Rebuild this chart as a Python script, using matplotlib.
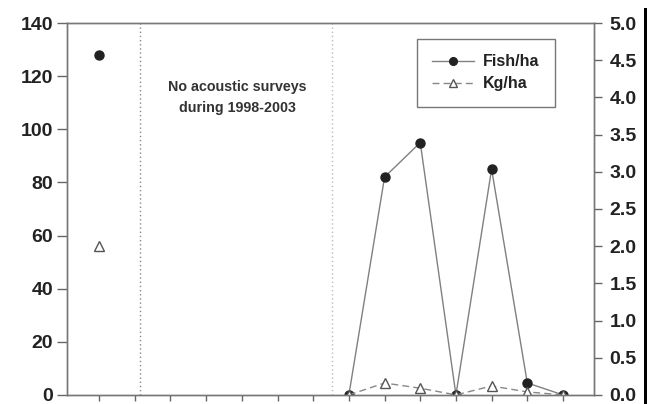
import numpy as np
import matplotlib.pyplot as plt
from matplotlib.patches import Rectangle

plt.rcParams['font.family'] = ['Liberation Sans', 'DejaVu Sans']
plt.rcParams['font.weight'] = 'bold'

# survey index 0 = 1997, 1-6 = no surveys (1998-2003), 7-13 = 2004-2010
years = np.arange(14)
fish_ha = [128, np.nan, np.nan, np.nan, np.nan, np.nan, np.nan,
           0, 82, 95, 0, 85, 4.5, 0]
kg_ha = [2.0, np.nan, np.nan, np.nan, np.nan, np.nan, np.nan,
         0, 0.16, 0.09, 0, 0.12, 0.04, 0]
gap_edges = [1.15, 6.53]

fig = plt.figure(figsize=(6.55, 4.04), dpi=100)
ax = fig.add_axes([0.1023, 0.0225, 0.8046, 0.9205])
ax2 = ax.twinx()

fish_line, = ax.plot(years, fish_ha, color='#808080', lw=1.0, marker='o',
                     ms=6.5, mfc='#222222', mec='#222222', label='Fish/ha')
kg_line, = ax2.plot(years, kg_ha, color='#888888', lw=1.0, ls=(0, (5, 3)),
                    marker='^', ms=6.5, mfc='white', mec='#555555', mew=1.0,
                    label='Kg/ha')

ax.axvline(gap_edges[0], color='#888888', lw=1.0, ls=(0, (1, 2)))
ax.axvline(gap_edges[1], color='#bbbbbb', lw=1.0, ls=(0, (1, 2)))

ax.text(3.87, 112, 'No acoustic surveys\nduring 1998-2003', ha='center',
        va='center', fontsize=10.3, fontweight='bold', color='#333333',
        linespacing=1.65)

ax.set_xlim(-0.9, 13.87)
ax.set_ylim(0, 140)
ax2.set_ylim(0, 5.0)
ax.set_xticks(years)
ax.set_xticklabels([])
ax.set_yticks(np.arange(0, 141, 20))
ax2.set_yticks(np.arange(0, 5.01, 0.5))
ax2.set_yticklabels([f'{v:.1f}' for v in np.arange(0, 5.01, 0.5)])

ax.tick_params(axis='y', length=7, width=1, color='#666666', labelsize=14,
               labelcolor='#222222', pad=3)
ax.tick_params(axis='x', length=4, width=1, color='#666666', direction='out')
ax2.tick_params(axis='y', length=6, width=1, color='#666666', labelsize=14,
                labelcolor='#222222', pad=5)
for a in (ax, ax2):
    for sp in a.spines.values():
        sp.set_color('#777777')
        sp.set_linewidth(1.0)

leg = ax2.legend(handles=[fish_line, kg_line], loc='upper right',
                 bbox_to_anchor=(0.926, 0.957), fontsize=11.5, frameon=True,
                 fancybox=False, edgecolor='#555555', handlelength=2.6,
                 borderpad=0.95, labelspacing=0.45, markerscale=0.85,
                 handletextpad=0.6, borderaxespad=0)
leg.get_frame().set_linewidth(1.0)
for t in leg.get_texts():
    t.set_fontweight('bold')
    t.set_color('#222222')

# dark strip along the right edge
fig.add_artist(Rectangle((644 / 655, 0), 3 / 655, 396 / 404,
                         transform=fig.transFigure, color='black', lw=0))

fig.savefig('out.png', dpi=100)
